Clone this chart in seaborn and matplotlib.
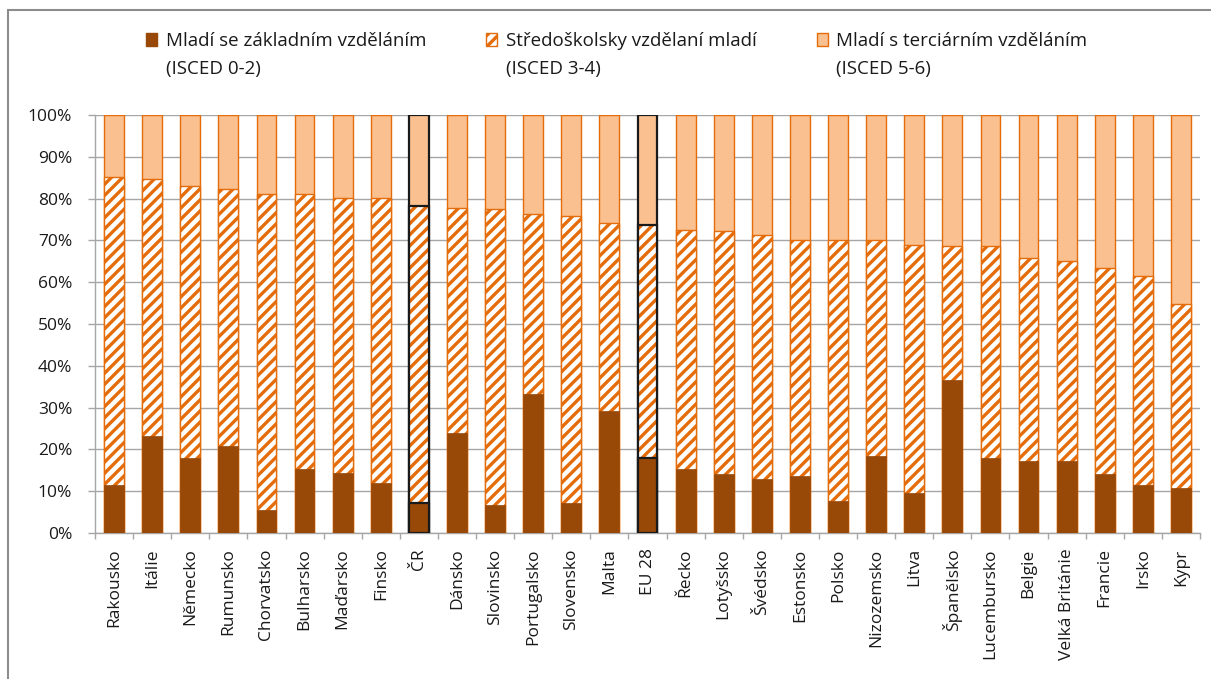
import numpy as np
import pandas as pd
import matplotlib
matplotlib.use("Agg")
import matplotlib.pyplot as plt
import seaborn as sns
from matplotlib.patches import Patch, Rectangle
from matplotlib.colors import to_rgba
from matplotlib.ticker import FixedLocator, FuncFormatter

countries = ["Rakousko", "Itálie", "Německo", "Rumunsko", "Chorvatsko", "Bulharsko",
             "Maďarsko", "Finsko", "ČR", "Dánsko", "Slovinsko", "Portugalsko",
             "Slovensko", "Malta", "EU 28", "Řecko", "Lotyšsko", "Švédsko", "Estonsko",
             "Polsko", "Nizozemsko", "Litva", "Španělsko", "Lucembursko", "Belgie",
             "Velká Británie", "Francie", "Irsko", "Kypr"]
basic = [11.6, 23.1, 18.0, 20.8, 5.5, 15.2, 14.4, 12.0, 7.2, 24.0, 6.8, 33.2, 7.1, 29.1,
         18.0, 15.2, 14.0, 12.8, 13.6, 7.6, 18.4, 9.6, 36.5, 18.0, 17.2, 17.2, 14.0, 11.6, 10.8]
secondary = [73.5, 61.6, 65.1, 61.4, 75.5, 65.8, 65.8, 68.2, 71.0, 53.8, 70.6, 43.0, 68.7,
             45.1, 55.8, 57.4, 58.2, 58.6, 56.6, 62.6, 51.8, 59.4, 32.1, 50.6, 48.6, 47.8,
             49.4, 49.9, 43.9]
tertiary = [14.9, 15.3, 16.9, 17.8, 19.0, 19.0, 19.8, 19.8, 21.8, 22.2, 22.6, 23.8, 24.2,
            25.8, 26.2, 27.4, 27.8, 28.6, 29.8, 29.8, 29.8, 31.0, 31.4, 31.4, 34.2, 35.0,
            36.6, 38.5, 45.3]
highlight = ["ČR", "EU 28"]
series_first = ["Mladí se základním vzděláním", "Středoškolsky vzdělaní mladí",
                "Mladí s terciárním vzděláním"]
series_second = ["(ISCED 0-2)", "(ISCED 3-4)", "(ISCED 5-6)"]
yticks = [0, 10, 20, 30, 40, 50, 60, 70, 80, 90, 100]

DARK = "#984807"
ORANGE = "#E46C0A"
LIGHT = "#FAC090"
GRID = "#A6A6A6"
TXT = "#1a1a1a"
FONT = ["Open Sans", "DejaVu Sans"]

sns.set_theme(style="white")
plt.rcParams["font.family"] = FONT
plt.rcParams["hatch.linewidth"] = 2.4

df = pd.DataFrame({"country": countries, "basic": basic,
                   "secondary": secondary, "tertiary": tertiary})
df["top_secondary"] = df["basic"] + df["secondary"]
df["total"] = df["top_secondary"] + df["tertiary"]

fig = plt.figure(figsize=(12.11, 6.79), dpi=100)
ax = fig.add_axes([95 / 1211, 1 - 533 / 679, (1200 - 95) / 1211, (533 - 115) / 679])

n = len(countries)
hl_idx = [countries.index(c) for c in highlight]
W = 0.52

def layer(col, color, edge, hatch=None, lw=1.0):
    before = len(ax.patches)
    sns.barplot(data=df, x="country", y=col, order=countries, color=color,
                saturation=1, edgecolor=edge, linewidth=lw, width=W,
                errorbar=None, hatch=hatch, ax=ax, zorder=3)
    bars = ax.patches[before:]
    for i in hl_idx:
        p = bars[i]
        p.set_edgecolor("#1a1a1a")
        p.set_linewidth(1.6)
        p._hatch_color = to_rgba(ORANGE)
    return bars

layer("total", LIGHT, ORANGE)
layer("top_secondary", "white", ORANGE, hatch="///")
layer("basic", DARK, DARK, lw=0.5)

ax.set_xlim(-0.5, n - 0.5)
ax.set_ylim(0, 100)
ax.set_xlabel("")
ax.set_ylabel("")
ax.yaxis.set_major_locator(FixedLocator(yticks))
ax.yaxis.set_major_formatter(FuncFormatter(lambda v, p: f"{v:.0f}%"))
ax.grid(axis="y", color=GRID, linewidth=1.0, zorder=0)
ax.set_axisbelow(True)
for s in ["top", "right"]:
    ax.spines[s].set_visible(False)
for s in ["left", "bottom"]:
    ax.spines[s].set_color(GRID)
    ax.spines[s].set_linewidth(1.0)
ax.tick_params(axis="y", which="major", left=True, length=5, width=1, color=GRID,
               labelsize=12.5, labelcolor=TXT, pad=11.5)
ax.set_xticks(range(n))
ax.set_xticklabels(countries, rotation=90, fontsize=12.5, color=TXT)
ax.tick_params(axis="x", which="major", bottom=False, length=0, pad=11)
ax.xaxis.set_minor_locator(FixedLocator(np.arange(-0.5, n, 1.0)))
ax.tick_params(axis="x", which="minor", bottom=True, length=4.5, width=1, color=GRID)

# figure frame
fig.patches.append(Rectangle((8 / 1211, -0.1), 1.2, 1 - 10 / 679 + 0.1,
                             transform=fig.transFigure, fill=False,
                             edgecolor="#8c8c8c", linewidth=1.5))

handles = [Patch(facecolor=DARK, edgecolor=DARK),
           Patch(facecolor="white", edgecolor=ORANGE, hatch="///"),
           Patch(facecolor=LIGHT, edgecolor=ORANGE)]
leg = fig.legend(handles, series_first, loc="upper left",
                 bbox_to_anchor=(146 / 1211, 1 - 32 / 679), ncol=3, frameon=False,
                 fontsize=13.5, handlelength=0.6, handleheight=0.75, handletextpad=0.45,
                 columnspacing=3.2, borderaxespad=0, borderpad=0)
for t in leg.get_texts():
    t.set_color(TXT)

fig.canvas.draw()
inv = fig.transFigure.inverted()
for t, s in zip(leg.get_texts(), series_second):
    bb = t.get_window_extent()
    x0, y0 = inv.transform((bb.x0, bb.y0))
    fig.text(x0, y0 - 28 / 679, s, fontsize=13.5, color=TXT, ha="left", va="bottom")

fig.savefig("out.png", dpi=100, facecolor="white")
